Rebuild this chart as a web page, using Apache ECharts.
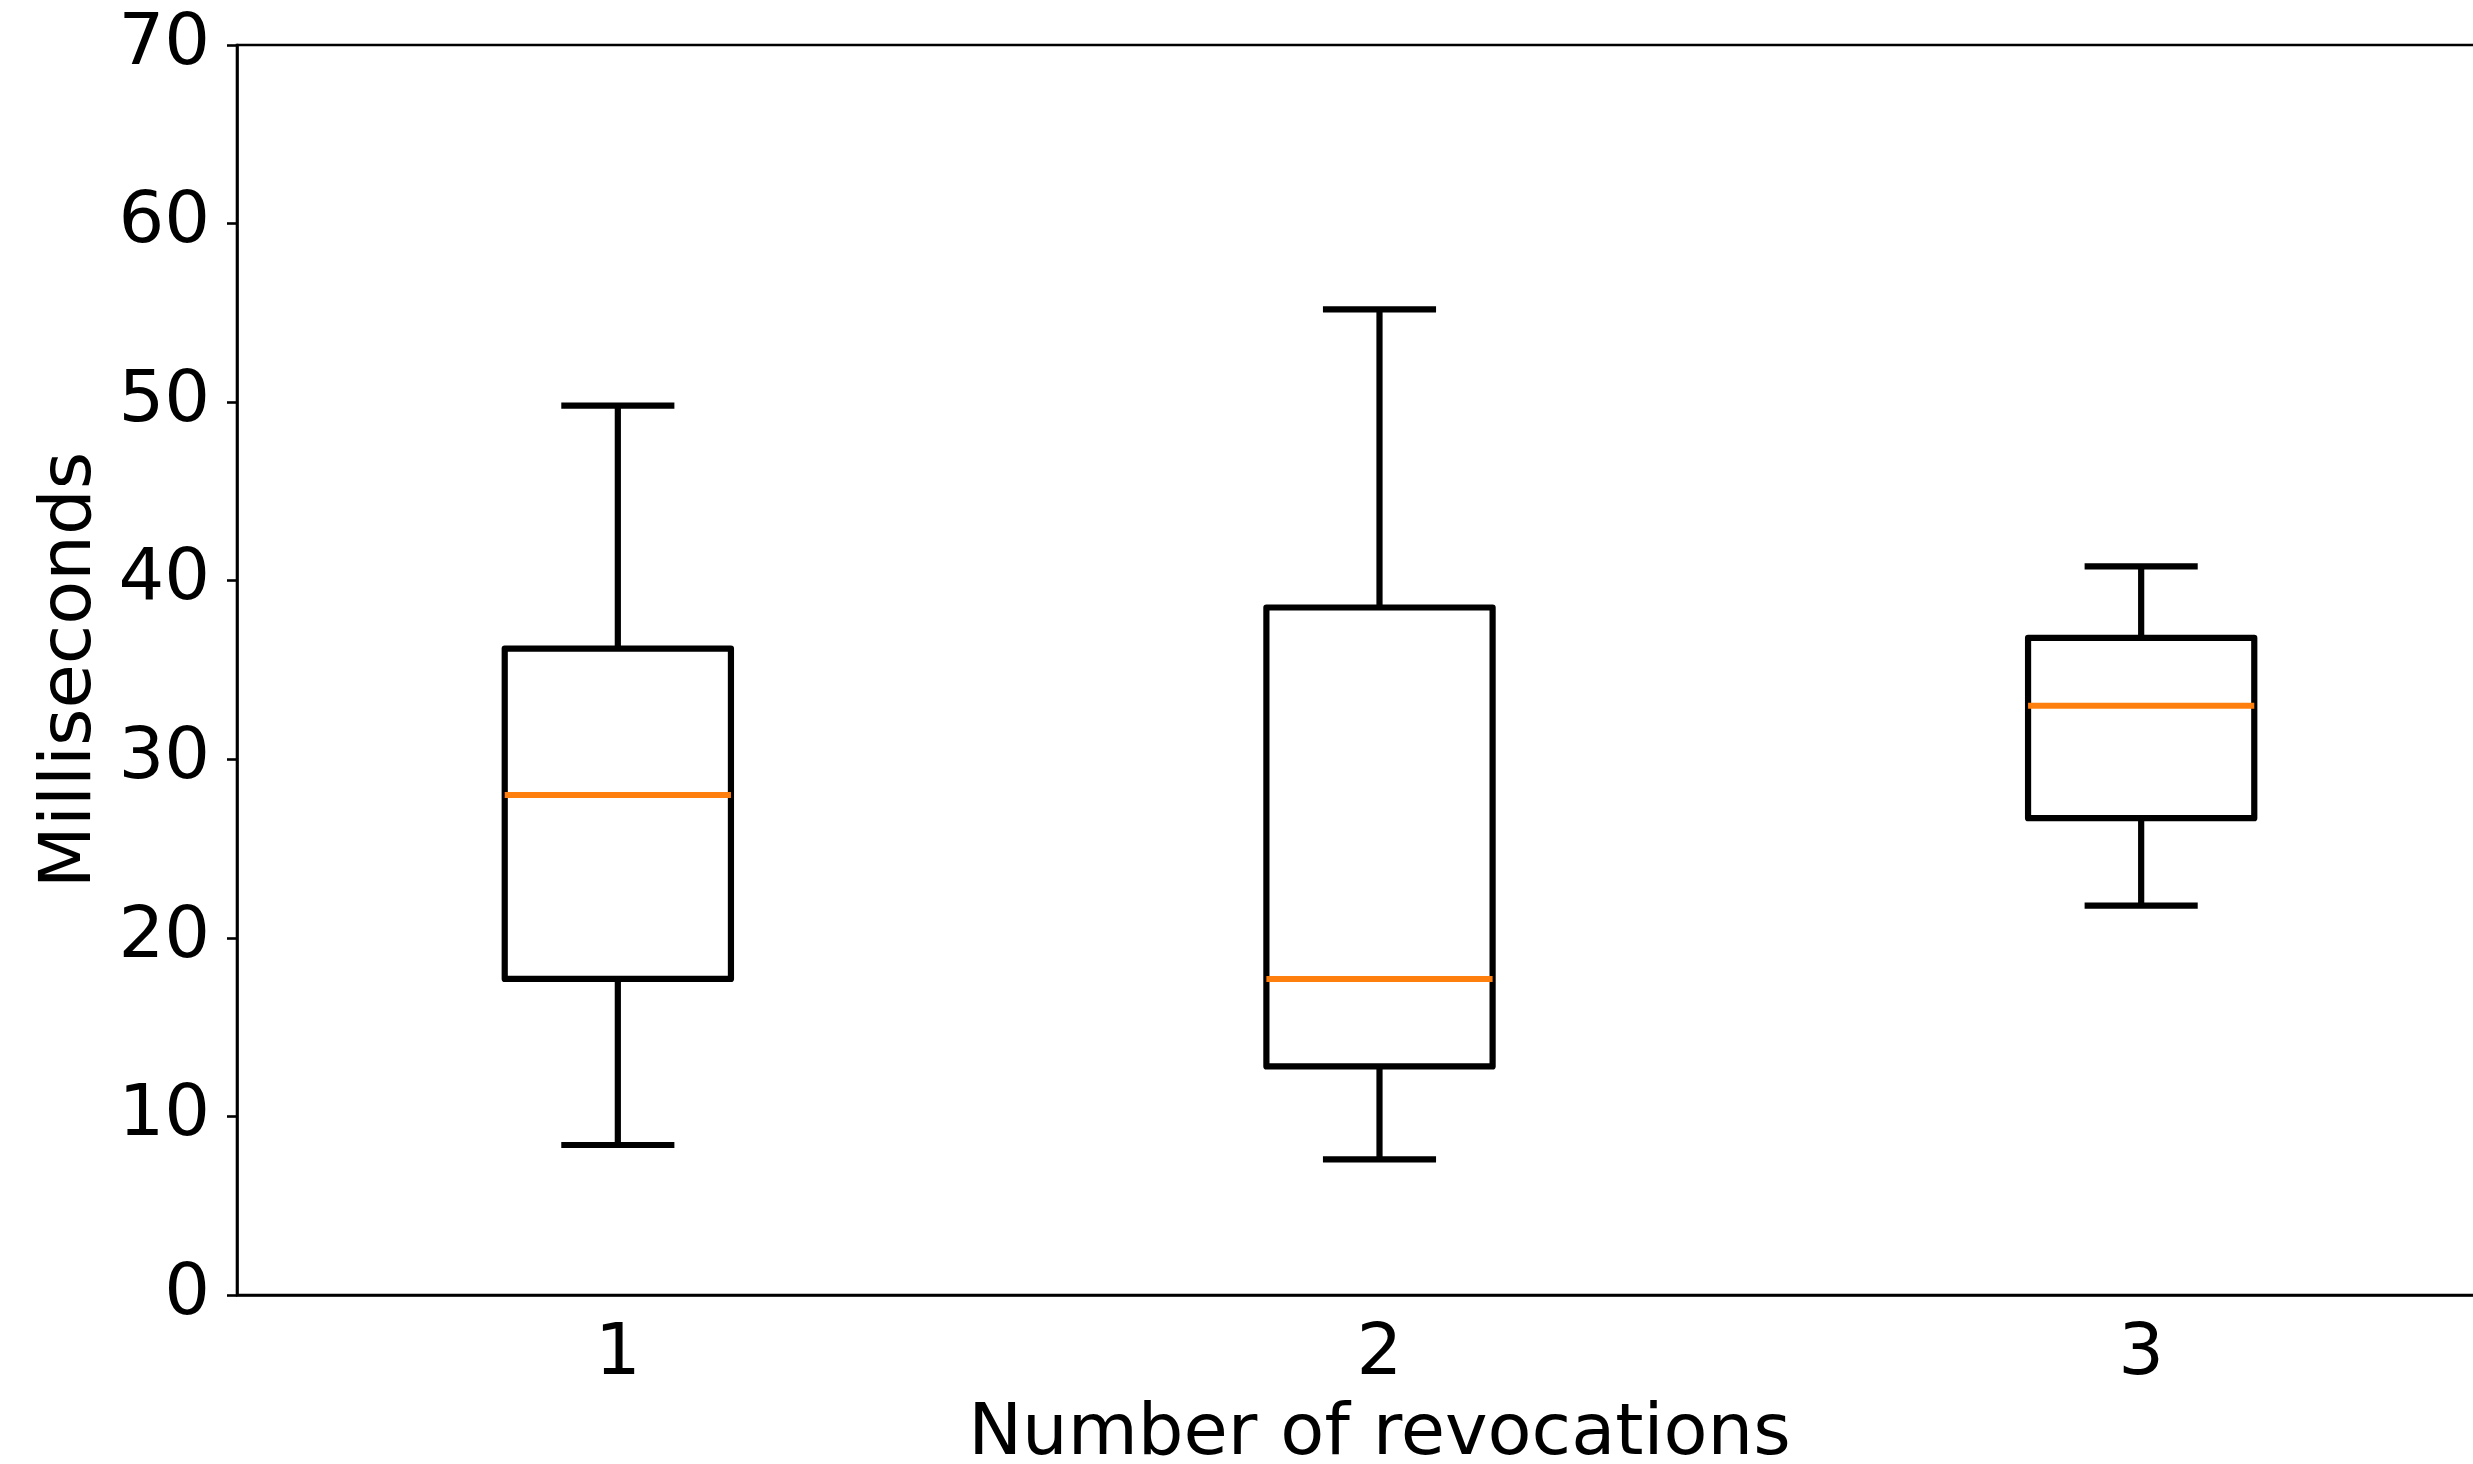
<!DOCTYPE html>
<html>
<head>
<meta charset="utf-8">
<script src="https://cdn.jsdelivr.net/npm/echarts@6/dist/echarts.min.js"></script>
<style>
  html, body { margin: 0; padding: 0; background: #fff; }
  #main { width: 2473px; height: 1464px; }
</style>
</head>
<body>
<div id="main"></div>
<script>
// categories on the x axis
var categories = ['1', '2', '3'];
// five-number summaries: [low whisker, Q1, median, Q3, high whisker]
var lowWhisker = [8.4, 7.6, 21.8];
var q1 = [17.7, 12.8, 26.7];
var median = [28.0, 17.7, 33.0];
var q3 = [36.2, 38.5, 36.8];
var highWhisker = [49.8, 55.2, 40.8];

var boxData = categories.map(function (c, i) {
	return [i, lowWhisker[i], q1[i], median[i], q3[i], highWhisker[i]];
});

var myChart = echarts.init(document.getElementById('main'));

function drawBox(params, api) {
	var i = api.value(0);
	var band = api.size([1, 0])[0];
	var bw = band * 0.297;   // box width
	var cw = bw / 2;         // whisker cap width
	var pLo = api.coord([i, api.value(1)]);
	var pQ1 = api.coord([i, api.value(2)]);
	var pMed = api.coord([i, api.value(3)]);
	var pQ3 = api.coord([i, api.value(4)]);
	var pHi = api.coord([i, api.value(5)]);
	var cx = pQ1[0];
	var black = { stroke: '#000', lineWidth: 6.2, fill: null };
	return {
		type: 'group',
		children: [
			{ type: 'rect', shape: { x: cx - bw / 2, y: pQ3[1], width: bw, height: pQ1[1] - pQ3[1] },
			  style: { stroke: '#000', lineWidth: 6.2, fill: 'rgba(0,0,0,0)', lineJoin: 'round' } },
			{ type: 'line', shape: { x1: cx, y1: pQ1[1], x2: cx, y2: pLo[1] }, style: black },
			{ type: 'line', shape: { x1: cx, y1: pQ3[1], x2: cx, y2: pHi[1] }, style: black },
			{ type: 'line', shape: { x1: cx - cw / 2, y1: pLo[1], x2: cx + cw / 2, y2: pLo[1] }, style: black },
			{ type: 'line', shape: { x1: cx - cw / 2, y1: pHi[1], x2: cx + cw / 2, y2: pHi[1] }, style: black },
			{ type: 'line', shape: { x1: cx - bw / 2, y1: pMed[1], x2: cx + bw / 2, y2: pMed[1] },
			  style: { stroke: '#ff7f0e', lineWidth: 6 } }
		]
	};
}

var font = 'DejaVu Sans';
var option = {
	backgroundColor: '#fff',
	animation: false,
	grid: {
		left: 237,
		top: 45,
		right: -49,
		bottom: 169,
		outerBoundsMode: 'none',
		show: true,
		borderColor: '#000',
		borderWidth: 2.6,
		backgroundColor: 'transparent'
	},
	xAxis: {
		type: 'category',
		data: categories,
		boundaryGap: true,
		name: 'Number of revocations',
		nameLocation: 'middle',
		nameGap: 104,
		nameTextStyle: { fontFamily: font, fontSize: 72, color: '#000' },
		axisLine: { lineStyle: { color: '#000', width: 2.6 } },
		axisTick: { alignWithLabel: true, length: 10, lineStyle: { color: '#000', width: 2.6 } },
		axisLabel: { fontFamily: font, fontSize: 72, color: '#000', margin: 24 },
		splitLine: { show: false }
	},
	yAxis: {
		type: 'value',
		min: 0,
		max: 70,
		interval: 10,
		name: 'Milliseconds',
		nameLocation: 'middle',
		nameGap: 130,
		nameTextStyle: { fontFamily: font, fontSize: 72, color: '#000' },
		axisLine: { show: true, lineStyle: { color: '#000', width: 2.6 } },
		axisTick: { show: true, length: 10, lineStyle: { color: '#000', width: 2.6 } },
		axisLabel: { fontFamily: font, fontSize: 72, color: '#000', margin: 27 },
		splitLine: { show: false }
	},
	series: [{
		type: 'custom',
		renderItem: drawBox,
		encode: { x: 0, y: [1, 2, 3, 4, 5] },
		data: boxData,
		clip: false
	}]
};
myChart.setOption(option);
</script>
</body>
</html>
